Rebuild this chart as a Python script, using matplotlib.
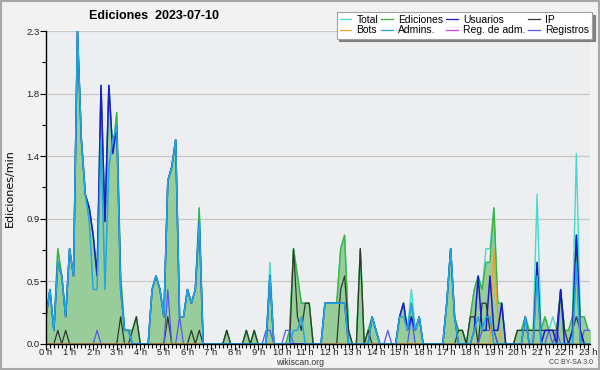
import numpy as np
import matplotlib
matplotlib.use("Agg")
import matplotlib.pyplot as plt
from matplotlib.lines import Line2D
from matplotlib.patches import Rectangle

plt.rcParams["font.family"] = ["Liberation Sans", "DejaVu Sans"]

# 10-minute bins, edits per minute, 00:00 .. 23:10
ediciones = [
    0.2, 0.4, 0.1, 0.7, 0.5, 0.2,   # 0h
    0.7, 0.5, 2.3, 1.5, 1.1, 1.0,   # 1h
    0.8, 0.5, 1.9, 0.9, 1.9, 1.4,   # 2h
    1.7, 0.5, 0.1, 0.1, 0.1, 0.2,   # 3h
    0.0, 0.0, 0.0, 0.4, 0.5, 0.4,   # 4h
    0.2, 1.2, 1.3, 1.5, 0.2, 0.2,   # 5h
    0.4, 0.3, 0.4, 1.0, 0.0, 0.0,   # 6h
    0.0, 0.0, 0.0, 0.0, 0.1, 0.0,   # 7h
    0.0, 0.0, 0.0, 0.1, 0.0, 0.1,   # 8h
    0.0, 0.0, 0.0, 0.5, 0.0, 0.0,   # 9h
    0.0, 0.0, 0.1, 0.7, 0.5, 0.3,   # 10h
    0.3, 0.3, 0.0, 0.0, 0.0, 0.3,   # 11h
    0.3, 0.3, 0.3, 0.7, 0.8, 0.1,   # 12h
    0.0, 0.0, 0.7, 0.0, 0.1, 0.2,   # 13h
    0.1, 0.0, 0.0, 0.0, 0.0, 0.0,   # 14h
    0.2, 0.3, 0.1, 0.3, 0.1, 0.2,   # 15h
    0.0, 0.0, 0.0, 0.0, 0.0, 0.0,   # 16h
    0.3, 0.7, 0.2, 0.1, 0.1, 0.0,   # 17h
    0.2, 0.4, 0.5, 0.4, 0.6, 0.6,   # 18h
    1.0, 0.3, 0.3, 0.0, 0.0, 0.0,   # 19h
    0.1, 0.1, 0.2, 0.1, 0.1, 0.6,   # 20h
    0.1, 0.2, 0.1, 0.1, 0.1, 0.4,   # 21h
    0.1, 0.1, 0.2, 0.8, 0.2, 0.2,   # 22h
    0.1, 0.1,                       # 23h
]
total = [
    0.2, 0.4, 0.1, 0.7, 0.5, 0.2,
    0.7, 0.5, 2.3, 1.5, 1.1, 1.0,
    0.8, 0.5, 1.9, 0.9, 1.9, 1.4,
    1.7, 0.5, 0.1, 0.1, 0.1, 0.2,
    0.0, 0.0, 0.0, 0.4, 0.5, 0.4,
    0.2, 1.2, 1.3, 1.5, 0.2, 0.2,
    0.4, 0.3, 0.4, 1.0, 0.0, 0.0,
    0.0, 0.0, 0.0, 0.0, 0.1, 0.0,
    0.0, 0.0, 0.0, 0.1, 0.0, 0.1,
    0.0, 0.0, 0.0, 0.6, 0.0, 0.0,
    0.0, 0.0, 0.1, 0.7, 0.5, 0.3,
    0.3, 0.3, 0.0, 0.0, 0.0, 0.3,
    0.3, 0.3, 0.3, 0.7, 0.8, 0.1,
    0.0, 0.0, 0.7, 0.0, 0.1, 0.2,
    0.1, 0.0, 0.0, 0.0, 0.0, 0.0,
    0.2, 0.3, 0.1, 0.4, 0.1, 0.2,
    0.0, 0.0, 0.0, 0.0, 0.0, 0.0,
    0.3, 0.7, 0.2, 0.1, 0.1, 0.0,
    0.2, 0.4, 0.5, 0.4, 0.7, 0.7,
    1.0, 0.3, 0.3, 0.0, 0.0, 0.0,
    0.1, 0.1, 0.2, 0.1, 0.1, 1.1,
    0.1, 0.2, 0.1, 0.2, 0.1, 0.4,
    0.1, 0.1, 0.2, 1.4, 0.2, 0.2,
    0.1, 0.1,
]
usuarios = [
    0.2, 0.4, 0.1, 0.6, 0.5, 0.2,
    0.7, 0.5, 2.3, 1.5, 1.1, 1.0,
    0.8, 0.5, 1.9, 0.9, 1.9, 1.4,
    1.6, 0.4, 0.1, 0.1, 0.0, 0.0,
    0.0, 0.0, 0.0, 0.4, 0.5, 0.4,
    0.2, 1.2, 1.3, 1.5, 0.2, 0.2,
    0.4, 0.3, 0.4, 0.9, 0.0, 0.0,
    0.0, 0.0, 0.0, 0.0, 0.0, 0.0,
    0.0, 0.0, 0.0, 0.0, 0.0, 0.0,
    0.0, 0.0, 0.0, 0.5, 0.0, 0.0,
    0.0, 0.0, 0.0, 0.0, 0.0, 0.0,
    0.0, 0.0, 0.0, 0.0, 0.0, 0.3,
    0.3, 0.3, 0.3, 0.3, 0.3, 0.0,
    0.0, 0.0, 0.0, 0.0, 0.0, 0.2,
    0.1, 0.0, 0.0, 0.0, 0.0, 0.0,
    0.2, 0.3, 0.1, 0.2, 0.1, 0.2,
    0.0, 0.0, 0.0, 0.0, 0.0, 0.0,
    0.3, 0.7, 0.2, 0.0, 0.0, 0.0,
    0.0, 0.1, 0.5, 0.1, 0.1, 0.5,
    0.1, 0.1, 0.3, 0.0, 0.0, 0.0,
    0.0, 0.0, 0.2, 0.0, 0.0, 0.6,
    0.0, 0.1, 0.1, 0.1, 0.0, 0.4,
    0.0, 0.0, 0.1, 0.8, 0.1, 0.0,
    0.0, 0.0,
]
admins = [
    0.2, 0.4, 0.1, 0.6, 0.5, 0.2,
    0.7, 0.5, 2.3, 1.5, 1.1, 0.9,
    0.4, 0.4, 1.5, 0.4, 1.3, 1.5,
    1.6, 0.4, 0.1, 0.1, 0.0, 0.0,
    0.0, 0.0, 0.0, 0.4, 0.5, 0.4,
    0.2, 1.2, 1.3, 1.5, 0.2, 0.2,
    0.4, 0.3, 0.4, 0.9, 0.0, 0.0,
    0.0, 0.0, 0.0, 0.0, 0.0, 0.0,
    0.0, 0.0, 0.0, 0.0, 0.0, 0.0,
    0.0, 0.0, 0.0, 0.5, 0.0, 0.0,
    0.0, 0.0, 0.0, 0.1, 0.1, 0.2,
    0.0, 0.0, 0.0, 0.0, 0.0, 0.3,
    0.3, 0.3, 0.3, 0.3, 0.3, 0.0,
    0.0, 0.0, 0.0, 0.0, 0.0, 0.2,
    0.1, 0.0, 0.0, 0.0, 0.0, 0.0,
    0.2, 0.2, 0.1, 0.3, 0.1, 0.2,
    0.0, 0.0, 0.0, 0.0, 0.0, 0.0,
    0.3, 0.7, 0.2, 0.0, 0.0, 0.0,
    0.0, 0.1, 0.2, 0.1, 0.2, 0.2,
    0.0, 0.0, 0.0, 0.0, 0.0, 0.0,
    0.0, 0.0, 0.2, 0.0, 0.0, 0.5,
    0.0, 0.0, 0.0, 0.0, 0.0, 0.0,
    0.0, 0.0, 0.0, 0.6, 0.0, 0.0,
    0.0, 0.0,
]
ip = [
    0.0, 0.0, 0.0, 0.1, 0.0, 0.1,
    0.0, 0.0, 0.0, 0.0, 0.0, 0.0,
    0.0, 0.0, 0.0, 0.0, 0.0, 0.0,
    0.0, 0.2, 0.0, 0.0, 0.1, 0.2,
    0.0, 0.0, 0.0, 0.0, 0.0, 0.0,
    0.0, 0.2, 0.0, 0.0, 0.0, 0.0,
    0.0, 0.1, 0.0, 0.1, 0.0, 0.0,
    0.0, 0.0, 0.0, 0.0, 0.1, 0.0,
    0.0, 0.0, 0.0, 0.1, 0.0, 0.1,
    0.0, 0.0, 0.0, 0.0, 0.0, 0.0,
    0.0, 0.0, 0.0, 0.7, 0.2, 0.1,
    0.3, 0.3, 0.0, 0.0, 0.0, 0.0,
    0.0, 0.0, 0.0, 0.4, 0.5, 0.1,
    0.0, 0.0, 0.7, 0.0, 0.1, 0.0,
    0.0, 0.0, 0.0, 0.0, 0.0, 0.0,
    0.0, 0.0, 0.0, 0.0, 0.0, 0.0,
    0.0, 0.0, 0.0, 0.0, 0.0, 0.0,
    0.0, 0.0, 0.0, 0.1, 0.1, 0.0,
    0.2, 0.2, 0.0, 0.3, 0.3, 0.1,
    0.1, 0.0, 0.0, 0.0, 0.0, 0.0,
    0.1, 0.1, 0.1, 0.1, 0.1, 0.1,
    0.1, 0.1, 0.1, 0.1, 0.1, 0.4,
    0.1, 0.0, 0.1, 0.2, 0.1, 0.0,
    0.0, 0.0,
]
registros = [
    0.0, 0.0, 0.0, 0.0, 0.0, 0.0,
    0.0, 0.0, 0.0, 0.0, 0.0, 0.0,
    0.0, 0.1, 0.0, 0.0, 0.0, 0.0,
    0.0, 0.0, 0.0, 0.0, 0.0, 0.0,
    0.0, 0.0, 0.0, 0.0, 0.0, 0.0,
    0.0, 0.4, 0.0, 0.0, 0.2, 0.0,
    0.0, 0.0, 0.0, 0.0, 0.0, 0.0,
    0.0, 0.0, 0.0, 0.0, 0.0, 0.0,
    0.0, 0.0, 0.0, 0.0, 0.0, 0.0,
    0.0, 0.0, 0.1, 0.1, 0.0, 0.0,
    0.0, 0.1, 0.1, 0.0, 0.0, 0.0,
    0.0, 0.0, 0.0, 0.0, 0.0, 0.0,
    0.0, 0.0, 0.0, 0.0, 0.0, 0.0,
    0.0, 0.0, 0.0, 0.0, 0.0, 0.0,
    0.0, 0.0, 0.0, 0.1, 0.0, 0.0,
    0.0, 0.0, 0.0, 0.2, 0.0, 0.0,
    0.0, 0.0, 0.0, 0.0, 0.0, 0.0,
    0.0, 0.0, 0.0, 0.0, 0.0, 0.0,
    0.0, 0.0, 0.0, 0.1, 0.1, 0.1,
    0.1, 0.0, 0.0, 0.0, 0.0, 0.0,
    0.0, 0.0, 0.0, 0.0, 0.0, 0.0,
    0.0, 0.0, 0.1, 0.0, 0.1, 0.0,
    0.0, 0.0, 0.0, 0.6, 0.0, 0.1,
    0.1, 0.1,
]
bots = [0.0] * 113 + [0.0, 0.7, 0.2, 0.0] + [0.0] * 23
reg_adm = [0.0] * 140

hour_labels = [f"{h} h" for h in range(24)]
y_ticks = [0.0, 0.46, 0.92, 1.38, 1.84, 2.3]
y_tick_labels = ["0.0", "0.5", "0.9", "1.4", "1.8", "2.3"]

C_TOTAL = "#48d8cc"
C_EDIT = "#3cb43c"
C_FILL = "#98cc98"
C_USER = "#1a1ad0"
C_IP = "#2c3a2c"
C_BOT = "#f0a020"
C_ADM = "#22a8e0"
C_REGADM = "#d040e0"
C_REG = "#5858f0"

x = np.arange(len(ediciones)) / 6.0

fig = plt.figure(figsize=(6.0, 3.7), dpi=100, facecolor="#f2f2f2")
ax = fig.add_axes([0.0767, 0.0703, 0.9067, 0.8459])
ax.set_facecolor("#eceef0")

ax.fill_between(x, 0, ediciones, color=C_FILL, lw=0, zorder=1)
ax.plot(x, total, color=C_TOTAL, lw=1.0, zorder=1.5)
ax.plot(x, ediciones, color=C_EDIT, lw=1.0, zorder=1.6)
ax.plot(x, ip, color=C_IP, lw=0.9, zorder=1.7)
ax.plot(x, registros, color=C_REG, lw=0.9, zorder=1.75)
ax.plot(x, bots, color=C_BOT, lw=0.9, zorder=1.8)
ax.plot(x, usuarios, color=C_USER, lw=1.1, zorder=1.85)
ax.plot(x, admins, color=C_ADM, lw=1.1, zorder=1.9)

ax.set_xlim(0, 23.08)
ax.set_ylim(0, 2.3)
ax.set_yticks(y_ticks)
ax.set_yticklabels(y_tick_labels)
ax.set_yticks([0.23, 0.69, 1.15, 1.61, 2.07], minor=True)
ax.set_xticks(range(24))
ax.set_xticklabels(hour_labels)
ax.set_xticks(np.arange(0, 23.1, 1 / 6.0), minor=True)
ax.tick_params(axis="y", which="major", labelsize=6.8, length=4,
               width=0.8, colors="#000000", labelcolor="#222222", pad=0.5)
ax.tick_params(axis="x", which="major", labelsize=6.8, length=4,
               width=0.8, colors="#000000", labelcolor="#222222", pad=-1.0)
ax.tick_params(axis="both", which="minor", length=3, width=0.8)
ax.grid(axis="y", which="major", color="#c8c8c8", lw=0.9)
ax.set_axisbelow(True)
for s in ["top", "right"]:
    ax.spines[s].set_visible(False)
for s in ["left", "bottom"]:
    ax.spines[s].set_linewidth(1.0)
    ax.spines[s].set_zorder(3)

fig.text(0.257, 0.957, "Ediciones  2023-07-10", ha="center", va="center",
         fontsize=9, fontweight="bold")
fig.text(0.017, 0.492, "Ediciones/min", rotation=90, ha="center",
         va="center", fontsize=8, family="DejaVu Sans")
fig.text(0.5, 0.019, "wikiscan.org", ha="center", va="center", fontsize=6.2,
         color="#333333")
fig.text(0.952, 0.020, "CC BY-SA 3.0", ha="center", va="center",
         fontsize=5, color="#444444")

fig.patches.append(Rectangle((0.0015, 0.0025), 0.997, 0.995,
                             transform=fig.transFigure, fill=False,
                             edgecolor="#a8a8a8", lw=1.5))

labels = ["Total", "Bots", "Ediciones", "Admins.", "Usuarios",
          "Reg. de adm.", "IP", "Registros"]
colors = [C_TOTAL, C_BOT, C_EDIT, C_ADM, C_USER, C_REGADM, C_IP, C_REG]
handles = [Line2D([], [], color=c, lw=0.9) for c in colors]
leg = fig.legend(handles, labels, ncol=4, loc="upper right",
                 bbox_to_anchor=(0.987, 0.968), fontsize=7.5, frameon=True,
                 fancybox=False, shadow={"color": "#808080", "alpha": 1},
                 handlelength=1.1, handletextpad=0.5, columnspacing=0.3,
                 labelspacing=0.05, borderpad=0.3, borderaxespad=0)
leg.get_frame().set_edgecolor("#a0a0a0")
leg.get_frame().set_linewidth(0.8)

fig.savefig("out.png", dpi=100, facecolor=fig.get_facecolor())
